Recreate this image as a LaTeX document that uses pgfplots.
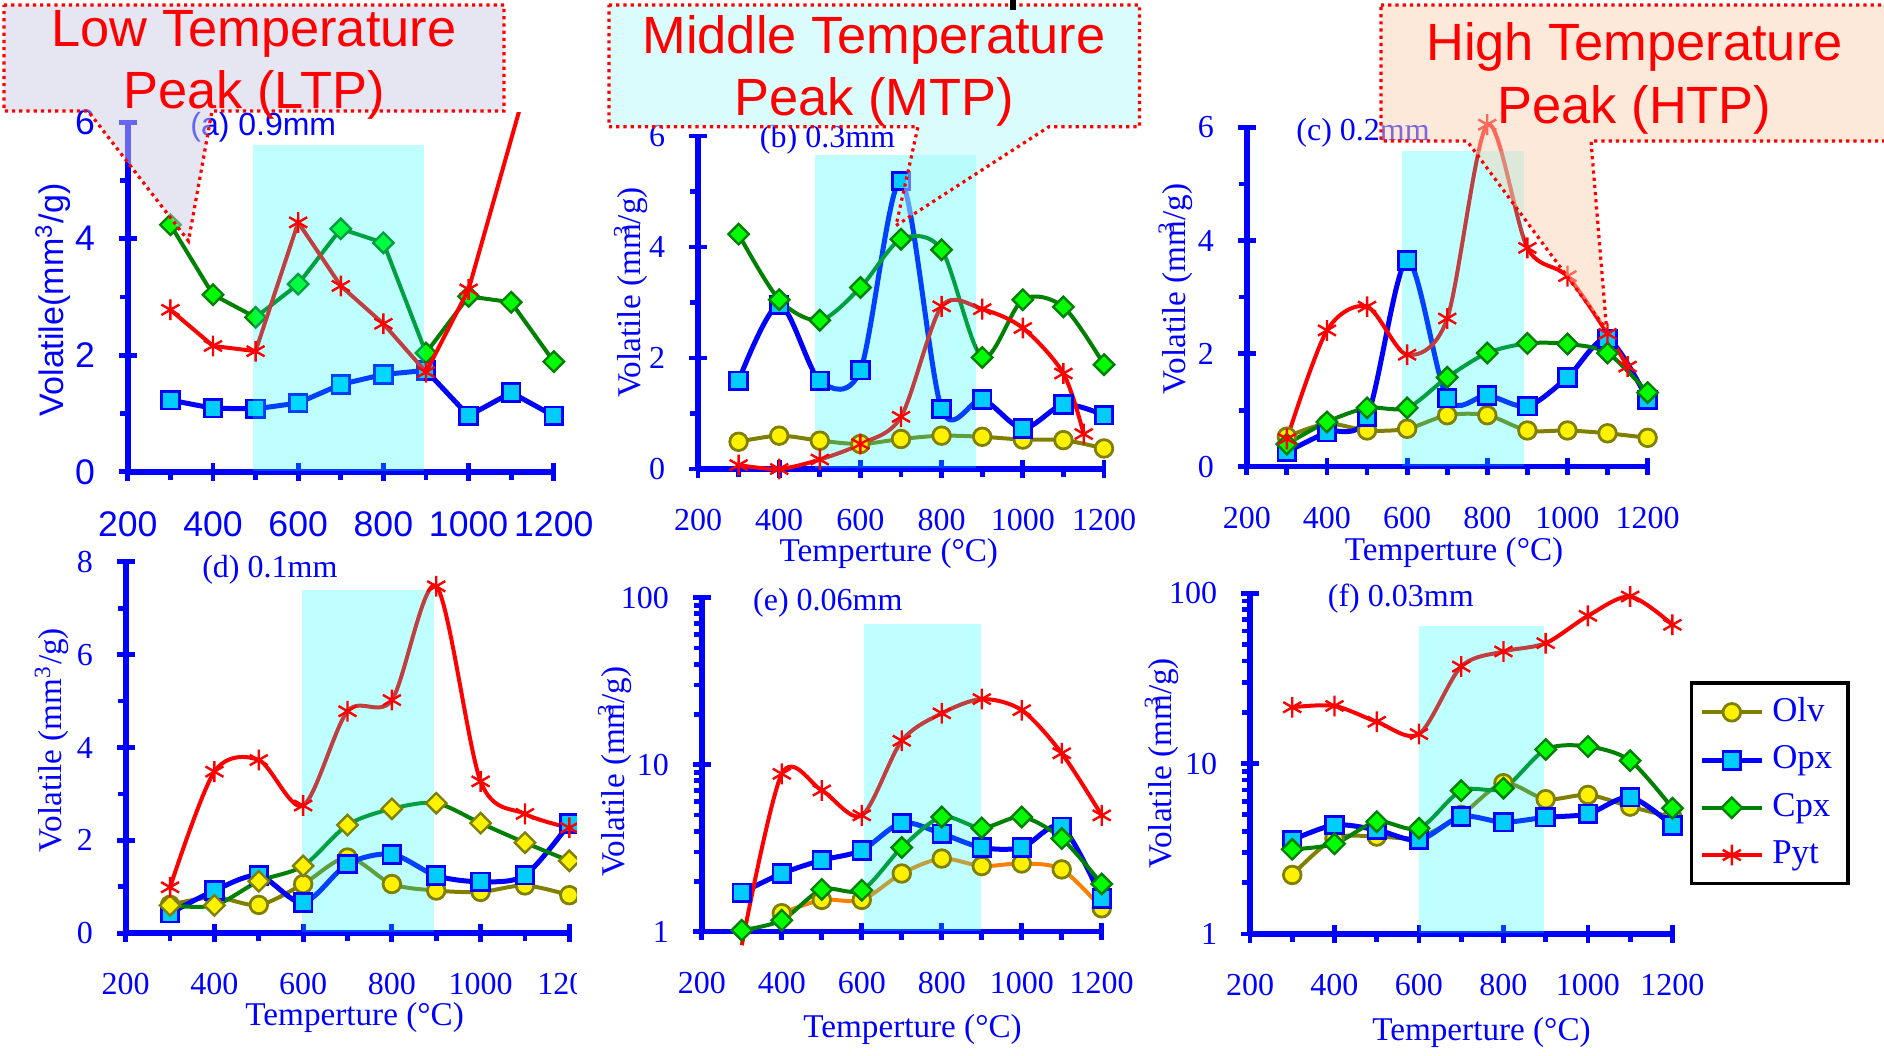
\documentclass[border=0pt]{standalone}
\usepackage{fontspec}
\setmainfont{Liberation Serif}
\newfontfamily\arial{Liberation Sans}
\usepackage{pgfplots}
\pgfplotsset{compat=1.18}
\definecolor{axblue}{RGB}{0,0,255}
\definecolor{olivec}{RGB}{128,128,0}
\definecolor{opxfill}{RGB}{0,204,255}
\definecolor{cpxline}{RGB}{0,128,0}
\definecolor{cpxfill}{RGB}{0,255,0}
\definecolor{orangec}{RGB}{255,128,0}
\definecolor{shadec}{RGB}{0,255,255}
\definecolor{ltpfill}{RGB}{205,205,230}
\definecolor{mtpfill}{RGB}{181,249,251}
\definecolor{htpfill}{RGB}{251,211,181}
\newcommand\tfont{\fontsize{8}{9}\selectfont}
\newcommand\lfont{\fontsize{8.3}{10}\selectfont}
\newcommand\afont{\arial\fontsize{8.9}{10}\selectfont}
\newcommand\cfont{\arial\fontsize{13.1}{15}\selectfont}
\pgfplotsset{
 panel/.style={
   scale only axis, clip=false, anchor=south west,
   axis lines*=left,
   axis line style={-, draw=axblue, line width=1.4pt},
   xmin=200, xmax=1200,
   xtick={200,400,600,800,1000,1200},
   xticklabels={200,400,600,800,1000,1200},
   minor xtick={300,500,700,900,1100},
   tick align=center,
   major tick length=4.4pt, minor tick length=2pt,
   tick style={draw=axblue, line width=1.2pt},
   minor x tick style={yshift=-1pt},
   minor y tick style={xshift=-1pt},
   ticklabel style={text=axblue, font=\tfont},
   xticklabel style={yshift=-4.3pt},
   yticklabel style={xshift=-2.5pt},
   label style={text=axblue, font=\lfont},
   /pgf/number format/assume math mode=true,
 },
 linpanel/.style={panel, ymin=0, ymax=6, ytick={0,2,4,6}, yticklabels={0,2,4,6}, minor ytick={1,3,5}},
 logpanel/.style={panel, ymin=1, ymax=100, ytick={1,10,100}, yticklabels={1,10,100},
   minor ytick={2,3,4,5,6,7,8,9,20,30,40,50,60,70,80,90}},
 olv/.style={color=olivec, line width=1pt, mark=*, mark size=2.2pt, mark options={fill=yellow, draw=olivec, line width=0.7pt, solid}},
 opx/.style={color=axblue, line width=1.25pt, mark=square*, mark size=2.2pt, mark options={fill=opxfill, draw=axblue, line width=0.7pt}},
 cpx/.style={color=cpxline, line width=1pt, mark=square*, mark size=1.8pt, mark options={rotate=45, fill=cpxfill, draw=cpxline, line width=0.6pt}},
 pyt/.style={color=red, line width=1pt, mark=asterisk, mark size=2.6pt, mark options={draw=red, line width=0.6pt}},
}
\begin{document}
\begin{tikzpicture}
\useasboundingbox (0,0) rectangle (471pt,264pt);

% ---------------- (a) 0.9mm
\begin{axis}[linpanel, at={(31.95pt,146.05pt)}, width=106.5pt, height=87.4pt,
  ticklabel style={font=\afont},
  ylabel={Volatile(mm\textsuperscript{3}/g)},
  ylabel style={at={(axis description cs:-0.176,0.4916)}, anchor=center, font=\arial\fontsize{8.5}{10}\selectfont}]
\addplot[opx] coordinates {(300,1.23)(400,1.09)(500,1.08)(600,1.18)(700,1.50)(800,1.67)(900,1.74)(1000,0.96)(1100,1.36)(1200,0.96)};
\addplot[cpx] coordinates {(300,4.24)(400,3.04)(500,2.65)(600,3.22)(700,4.17)(800,3.93)(900,2.04)(1000,3.01)(1100,2.91)(1200,1.89)};
\node[text=axblue, font=\arial\fontsize{8}{9}\selectfont] at (axis description cs:0.318,0.987) {(a) 0.9mm};
\end{axis}
\begin{axis}[scale only axis, anchor=south west, at={(31.95pt,146.05pt)}, width=106.5pt, height=89.87pt,
  xmin=200, xmax=1200, ymin=0, ymax=6.17, hide axis]
\addplot[pyt] coordinates {(300,2.78)(400,2.16)(500,2.07)(600,4.28)(700,3.19)(800,2.54)(900,1.71)(1000,3.13)(1150,7.0)};
\fill[shadec, opacity=0.25] (axis cs:494,0.02) rectangle (axis cs:896,5.6);
\end{axis}

% ---------------- (b) 0.3mm
\begin{axis}[linpanel, at={(174.5pt,146.75pt)}, width=101.5pt, height=83.25pt,
  ylabel={Volatile (mm\llap{\textsuperscript{3}}/g)},
  ylabel style={at={(axis description cs:-0.165,0.53)}, anchor=center},
  xlabel={Temperture (°C)},
  xlabel style={at={(axis description cs:0.47,-0.255)}, anchor=center}]
\addplot[olv, smooth] coordinates {(300,0.49)(400,0.60)(500,0.51)(600,0.45)(700,0.54)(800,0.60)(900,0.58)(1000,0.53)(1100,0.52)(1200,0.37)};
\addplot[opx, smooth] coordinates {(300,1.59)(400,2.96)(500,1.59)(600,1.78)(700,5.19)(800,1.08)(900,1.25)(1000,0.73)(1100,1.16)(1200,0.97)};
\addplot[cpx, smooth] coordinates {(300,4.23)(400,3.05)(500,2.68)(600,3.27)(700,4.14)(800,3.95)(900,2.01)(1000,3.05)(1100,2.92)(1200,1.88)};
\addplot[pyt, smooth] coordinates {(300,0.07)(400,0.0)(500,0.17)(600,0.45)(700,0.94)(800,2.93)(900,2.88)(1000,2.54)(1100,1.72)(1150,0.63)};
\fill[shadec, opacity=0.25] (axis cs:489,0.02) rectangle (axis cs:885,5.65);
\node[text=axblue, font=\tfont] at (axis description cs:0.319,0.989) {(b) 0.3mm};
\end{axis}

% ---------------- (c) 0.2mm
\begin{axis}[linpanel, at={(311.7pt,147.33pt)}, width=100.2pt, height=84.8pt,
  ylabel={Volatile (mm\llap{\textsuperscript{3}}/g)},
  ylabel style={at={(axis description cs:-0.178,0.524)}, anchor=center},
  xlabel={Temperture (°C)},
  xlabel style={at={(axis description cs:0.517,-0.254)}, anchor=center}]
\addplot[olv, smooth] coordinates {(300,0.53)(400,0.76)(500,0.64)(600,0.67)(700,0.91)(800,0.91)(900,0.64)(1000,0.64)(1100,0.59)(1200,0.51)};
\addplot[opx, smooth] coordinates {(300,0.26)(400,0.61)(500,0.88)(600,3.65)(700,1.21)(800,1.26)(900,1.07)(1000,1.58)(1100,2.26)(1200,1.18)};
\addplot[cpx, smooth] coordinates {(300,0.40)(400,0.79)(500,1.04)(600,1.04)(700,1.58)(800,2.01)(900,2.18)(1000,2.17)(1100,2.01)(1200,1.31)};
\addplot[pyt, smooth] coordinates {(300,0.49)(400,2.41)(500,2.83)(600,1.98)(700,2.62)(800,6.05)(900,3.87)(1000,3.37)(1100,2.35)(1150,1.77)};
\fill[shadec, opacity=0.25] (axis cs:587,0.02) rectangle (axis cs:892,5.59);
\node[text=axblue, font=\tfont] at (axis description cs:0.29,0.985) {(c) 0.2mm};
\end{axis}

% ---------------- (d) 0.1mm
\begin{axis}[panel, at={(31.43pt,30.68pt)}, width=110.9pt, height=92.9pt,
  ymin=0, ymax=8, ytick={0,2,4,6,8}, yticklabels={0,2,4,6,8}, minor ytick={1,3,5,7},
  ylabel={Volatile (mm\textsuperscript{3}/g)},
  ylabel style={at={(axis description cs:-0.167,0.52)}, anchor=center},
  xlabel={Temperture (°C)},
  xlabel style={at={(axis description cs:0.516,-0.226)}, anchor=center}]
\addplot[olv, smooth] coordinates {(300,0.61)(400,0.78)(500,0.61)(600,1.06)(700,1.63)(800,1.06)(900,0.92)(1000,0.89)(1100,1.03)(1200,0.82)};
\addplot[opx, smooth] coordinates {(300,0.43)(400,0.92)(500,1.24)(600,0.66)(700,1.49)(800,1.70)(900,1.24)(1000,1.11)(1100,1.25)(1200,2.36)};
\addplot[cpx, smooth, mark options={rotate=45, fill=yellow, draw=olivec, line width=0.6pt}] coordinates {(300,0.60)(400,0.60)(500,1.12)(600,1.45)(700,2.33)(800,2.68)(900,2.80)(1000,2.37)(1100,1.95)(1200,1.56)};
\addplot[pyt, smooth] coordinates {(300,0.99)(400,3.48)(500,3.73)(600,2.75)(700,4.78)(800,5.02)(900,7.47)(1000,3.27)(1100,2.57)(1200,2.27)};
\fill[shadec, opacity=0.25] (axis cs:598,0.03) rectangle (axis cs:895,7.39);
\node[text=axblue, font=\tfont] at (axis description cs:0.325,0.978) {(d) 0.1mm};
\end{axis}

% ---------------- (e) 0.06mm
\begin{axis}[ymode=log, logpanel, at={(175.45pt,31.08pt)}, width=99.98pt, height=83.5pt,
  ylabel={Volatile (mm\llap{\textsuperscript{3}}/g)},
  ylabel style={at={(axis description cs:-0.217,0.479)}, anchor=center},
  xlabel={Temperture (°C)},
  xlabel style={at={(axis description cs:0.527,-0.293)}, anchor=center}]
\addplot[olv, smooth, color=orangec] coordinates {(400,1.29)(500,1.55)(600,1.55)(700,2.23)(800,2.74)(900,2.47)(1000,2.56)(1100,2.36)(1200,1.38)};
\addplot[opx, smooth] coordinates {(300,1.71)(400,2.23)(500,2.68)(600,3.07)(700,4.48)(800,3.86)(900,3.19)(1000,3.19)(1100,4.24)(1200,1.58)};
\addplot[cpx, smooth] coordinates {(300,1.02)(400,1.17)(500,1.79)(600,1.77)(700,3.19)(800,4.86)(900,4.18)(1000,4.86)(1100,3.61)(1200,1.93)};
\addplot[pyt, smooth, mark indices={2,3,4,5,6,7,8,9,10}] coordinates {(300,0.83)(400,8.81)(500,7.01)(600,4.97)(700,13.9)(800,20.3)(900,24.7)(1000,21.2)(1100,11.7)(1200,4.97)};
\fill[shadec, opacity=0.25] (axis cs:606,1.01) rectangle (axis cs:898,69.3);
\node[text=axblue, font=\tfont] at (axis description cs:0.315,0.985) {(e) 0.06mm};
\end{axis}

% ---------------- (f) 0.03mm
\begin{axis}[ymode=log, logpanel, at={(312.5pt,30.5pt)}, width=105.6pt, height=85.2pt,
  ylabel={Volatile (mm\llap{\textsuperscript{3}}/g)},
  ylabel style={at={(axis description cs:-0.209,0.501)}, anchor=center},
  xlabel={Temperture (°C)},
  xlabel style={at={(axis description cs:0.548,-0.29)}, anchor=center},
  legend style={at={(1.0405,0.741)}, anchor=north west, draw=black, line width=0.9pt, fill=white,
    font=\fontsize{8.7}{10}\selectfont, text=axblue, inner xsep=2pt, inner ysep=1.5pt, row sep=0.6pt,
    cells={anchor=west}},
  legend image code/.code={\draw[mark repeat=2,mark phase=2,#1] plot coordinates {(0pt,0pt) (7.5pt,0pt) (15pt,0pt)};}]
\addplot[olv, smooth] coordinates {(300,2.22)(400,3.64)(500,3.73)(600,3.7)(700,5.0)(800,7.67)(900,6.18)(1000,6.55)(1100,5.59)(1200,4.84)};
\addlegendentry{Olv}
\addplot[opx, smooth] coordinates {(300,3.56)(400,4.36)(500,4.08)(600,3.56)(700,4.89)(800,4.53)(900,4.84)(1000,5.07)(1100,6.35)(1200,4.32)};
\addlegendentry{Opx}
\addplot[cpx, smooth] coordinates {(300,3.14)(400,3.38)(500,4.56)(600,4.17)(700,6.94)(800,7.17)(900,12.1)(1000,12.6)(1100,10.4)(1200,5.47)};
\addlegendentry{Cpx}
\addplot[pyt, smooth] coordinates {(300,21.4)(400,21.8)(500,17.6)(600,14.9)(700,37.1)(800,45.5)(900,50.9)(1000,73.6)(1100,95.6)(1200,65.2)};
\addlegendentry{Pyt}
\fill[shadec, opacity=0.25] (axis cs:600,1.01) rectangle (axis cs:895,64.6);
\node[text=axblue, font=\tfont] at (axis description cs:0.357,0.985) {(f) 0.03mm};
\end{axis}

% ---------------- overlays (callouts)
\begin{scope}[x=0.25pt,y=-0.25pt,shift={(0pt,264pt)}]
\fill[white] (577,800) rectangle (600,1004);
\path[fill=ltpfill, fill opacity=0.5, draw=red, densely dotted, line width=0.8pt]
  (4,5) -- (504,5) -- (504,111) -- (212,111) -- (188.5,241) -- (88,111) -- (4,111) -- cycle;
\node[anchor=base, text=red, font=\cfont] at (254,46.5) {Low Temperature};
\node[anchor=base, text=red, font=\cfont] at (254,108.5) {Peak (LTP)};
\path[fill=mtpfill, fill opacity=0.5, draw=red, densely dotted, line width=0.8pt]
  (609,5) -- (1139.5,5) -- (1139.5,126.7) -- (1049,126.7) -- (896,225.6) -- (918,126.7) -- (609,126.7) -- cycle;
\node[anchor=base, text=red, font=\cfont] at (874,53.4) {Middle Temperature};
\node[anchor=base, text=red, font=\cfont] at (874,115.4) {Peak (MTP)};
\fill[black] (1010,0) rectangle (1016,10);
\path[fill=htpfill, fill opacity=0.5, draw=red, densely dotted, line width=0.8pt]
  (1381,5) -- (1900,5) -- (1900,141) -- (1591,141) -- (1606.7,330) -- (1467,141) -- (1381,141) -- cycle;
\node[anchor=base, text=red, font=\cfont] at (1634.5,60.3) {High Temperature};
\node[anchor=base, text=red, font=\cfont] at (1634.5,124) {Peak (HTP)};
\end{scope}
\end{tikzpicture}
\end{document}
